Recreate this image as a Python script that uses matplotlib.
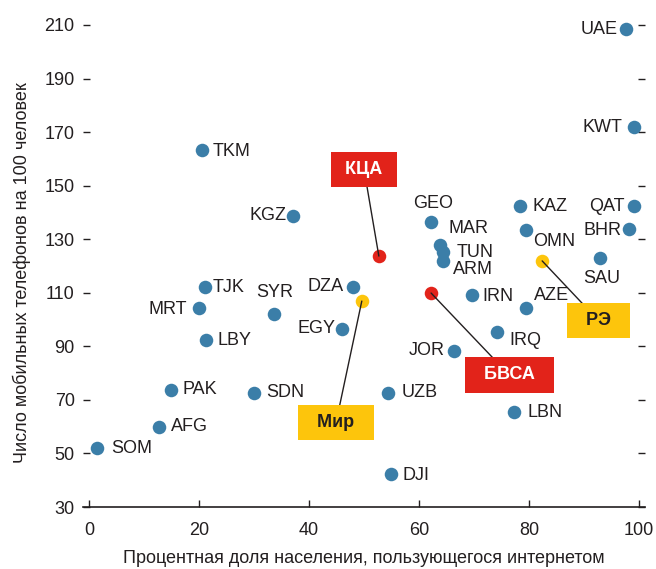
import matplotlib
matplotlib.use('Agg')
import matplotlib.pyplot as plt

plt.rcParams['font.family'] = ['Liberation Sans', 'DejaVu Sans']

# Country data: share of internet users (%) and mobile phones per 100 people
countries = ['UAE', 'KWT', 'TKM', 'KGZ', 'GEO', 'MAR', 'TUN', 'ARM', 'KAZ', 'OMN',
             'QAT', 'BHR', 'SAU', 'TJK', 'SYR', 'DZA', 'MRT', 'EGY', 'LBY', 'PAK',
             'SDN', 'AFG', 'SOM', 'IRN', 'AZE', 'IRQ', 'JOR', 'UZB', 'LBN', 'DJI']
internet = [97.6, 99.1, 20.5, 37.1, 62.2, 63.8, 64.4, 64.4, 78.4, 79.5,
            99.1, 98.2, 92.9, 21.1, 33.6, 48.0, 20.0, 46.0, 21.3, 14.9,
            30.0, 12.7, 1.4, 69.6, 79.5, 74.2, 66.4, 54.4, 77.3, 54.9]
mobile = [208.5, 171.9, 163.3, 138.7, 136.4, 127.8, 125.2, 121.9, 142.4, 133.4,
          142.4, 133.8, 123.0, 112.2, 102.1, 112.2, 104.3, 96.5, 92.4, 73.7,
          72.6, 59.9, 52.0, 109.2, 104.3, 95.3, 88.3, 72.6, 65.5, 42.3]

# Regional / world averages
groups = ['КЦА', 'Мир', 'БВСА', 'РЭ']
group_internet = [52.7, 49.6, 62.2, 82.4]
group_mobile = [123.7, 106.9, 109.9, 121.9]

blue = '#3b7ea8'
red = '#e2231a'
yellow = '#fdc50c'
dark = '#231f20'

# label placement (pixels offset, horizontal alignment)
label_pos = {
    'UAE': (-8, 0, 'right'), 'KWT': (-12, 0, 'right'), 'TKM': (11, -1, 'left'),
    'KGZ': (-6, 0, 'right'), 'GEO': (2, 19, 'center'), 'MAR': (9, 17, 'left'),
    'TUN': (13, 0, 'left'), 'ARM': (10, -9, 'left'), 'KAZ': (12, 0, 'left'),
    'OMN': (7, -11, 'left'), 'QAT': (-9, 0, 'right'), 'BHR': (-8, -1, 'right'),
    'SAU': (2, -21, 'center'), 'TJK': (8, -1, 'left'), 'SYR': (1, 21, 'center'),
    'DZA': (-9, 0, 'right'), 'MRT': (-12, -1, 'right'), 'EGY': (-7, 0, 'right'),
    'LBY': (11, -1, 'left'), 'PAK': (12, 0, 'left'), 'SDN': (12, 0, 'left'),
    'AFG': (12, 0, 'left'), 'SOM': (14, 0, 'left'), 'IRN': (11, -2, 'left'),
    'AZE': (8, 13, 'left'), 'IRQ': (12, -8, 'left'), 'JOR': (-9, 0, 'right'),
    'UZB': (13, 0, 'left'), 'LBN': (13, -1, 'left'), 'DJI': (12, -1, 'left'),
}

# group callout boxes: text position in data units, colours, extra side padding
group_box = {
    'КЦА': (50.0, 156.2, red, 'white', 1),
    'Мир': (44.9, 61.4, yellow, dark, 2),
    'БВСА': (76.4, 79.3, red, 'white', 2),
    'РЭ': (92.7, 99.5, yellow, dark, 2),
}

fig = plt.figure(figsize=(6.56, 5.69), dpi=100)
ax = fig.add_axes([83 / 656, 1 - 507 / 569, (645 - 83) / 656, (507 - 11.6) / 569])

ax.scatter(internet, mobile, s=95, color=blue, zorder=3, linewidths=0)

for c, x, y in zip(countries, internet, mobile):
    dx, dy, ha = label_pos[c]
    ax.annotate(c, (x, y), xytext=(dx, dy), textcoords='offset pixels',
                ha=ha, va='center', fontsize=13, color=dark, zorder=4)

for g, x, y in zip(groups, group_internet, group_mobile):
    tx, ty, fc, tc, extra = group_box[g]
    ax.scatter([x], [y], s=95, color=fc, zorder=3, linewidths=0)
    pad = ' ' * extra
    ax.annotate(pad + g + pad, (x, y), xytext=(tx, ty), textcoords='data',
                ha='center', va='center', fontsize=13, fontweight='bold', color=tc,
                bbox=dict(boxstyle='square,pad=0.5', fc=fc, ec='none'),
                arrowprops=dict(arrowstyle='-', color=dark, lw=1, shrinkA=0, shrinkB=0),
                zorder=5)

ax.set_xlim(-1.1, 101.1)
ax.set_ylim(30, 215)
ax.set_xticks([0, 20, 40, 60, 80, 100])
ax.set_yticks(range(30, 211, 20))

for s in ['top', 'left', 'right']:
    ax.spines[s].set_visible(False)
ax.spines['bottom'].set_color(dark)
ax.spines['bottom'].set_linewidth(1.2)

ax.tick_params(axis='both', direction='in', length=5, width=1, color=dark,
               labelsize=13, labelcolor=dark)
ax.tick_params(axis='y', right=True, labelright=False, pad=6)
ax.tick_params(axis='x', pad=11)

ax.set_xlabel('Процентная доля населения, пользующегося интернетом',
              fontsize=13, color=dark, labelpad=8)
ax.set_ylabel('Число мобильных телефонов на 100 человек',
              fontsize=13, color=dark)
ax.yaxis.set_label_coords(-0.092, 0.474)

fig.savefig('out.png', dpi=100)
